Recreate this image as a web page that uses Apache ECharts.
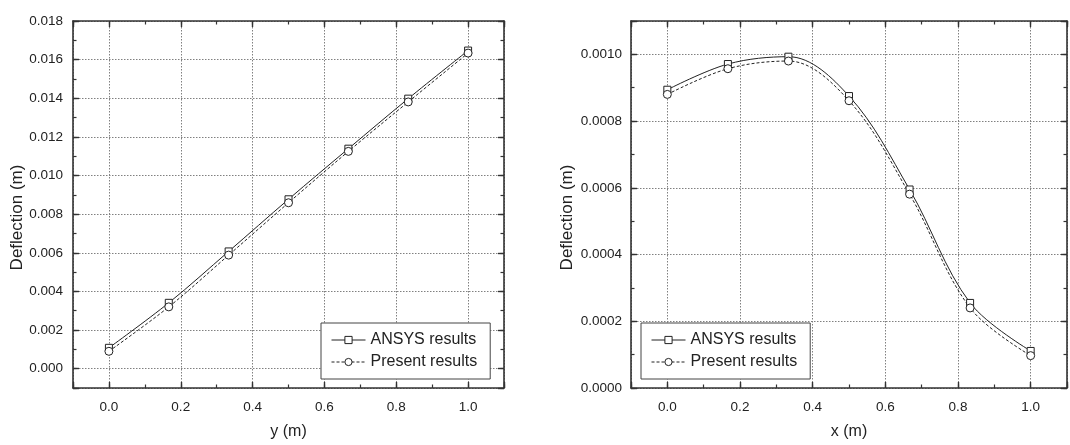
<!DOCTYPE html>
<html><head><meta charset="utf-8">
<script src="https://cdn.jsdelivr.net/npm/echarts@6/dist/echarts.min.js"></script>
<style>html,body{margin:0;padding:0;background:#fff}#c{width:1070px;height:445px}</style>
</head><body><div id="c"></div>
<script>
// ---- data ----
const positions = [0.0, 0.1667, 0.3333, 0.5, 0.6667, 0.8333, 1.0];
const leftAnsys    = [0.00108, 0.00341, 0.00607, 0.00877, 0.01139, 0.01398, 0.01647];
const leftPresent  = [0.00090, 0.00320, 0.00588, 0.00859, 0.01125, 0.01381, 0.01634];
const rightAnsys   = [0.000894, 0.000971, 0.000993, 0.000875, 0.000595, 0.000255, 0.000111];
const rightPresent = [0.000880, 0.000957, 0.000980, 0.000861, 0.000581, 0.000240, 0.000097];
const seriesNames = ['ANSYS results', 'Present results'];
const xTickLabels = ['0.0', '0.2', '0.4', '0.6', '0.8', '1.0'];
const leftYTickLabels = ['0.000', '0.002', '0.004', '0.006', '0.008', '0.010', '0.012', '0.014', '0.016', '0.018'];
const rightYTickLabels = ['0.0000', '0.0002', '0.0004', '0.0006', '0.0008', '0.0010'];
const leftXTitle = 'y (m)', rightXTitle = 'x (m)', yTitle = 'Deflection (m)';

// ---- styling ----
const AX = '#333', GRIDC = '#808080', TXT = '#222', LINE = '#222';
const FONT = '"Liberation Sans", Arial, Helvetica, sans-serif';

function labelFmt(labels) {
  const vals = labels.map(Number);
  return function (v) {
    for (let i = 0; i < vals.length; i++) {
      if (Math.abs(vals[i] - v) < 1e-9) return labels[i];
    }
    return '';
  };
}

function axes(dim, gridIndex, cfg) {
  const mainPos = dim === 'x' ? 'bottom' : 'left';
  const mirPos = dim === 'x' ? 'top' : 'right';
  const base = {
    type: 'value', gridIndex, min: cfg.min, max: cfg.max, silent: true,
    axisLine: { show: true, onZero: false, lineStyle: { color: AX, width: 1.6 } },
    splitLine: { show: false },
    axisLabel: { show: false },
    axisTick: { show: true, inside: true, length: 6, lineStyle: { color: AX, width: 1.4 } }
  };
  const major = cfg.interval ? { interval: cfg.interval } : { splitNumber: cfg.splitNumber };
  const main = Object.assign({}, base, major, {
    position: mainPos,
    name: cfg.name, nameLocation: 'middle', nameGap: cfg.nameGap,
    nameTextStyle: Object.assign({ fontSize: cfg.nameSize, color: TXT, fontFamily: FONT }, cfg.namePad ? { padding: cfg.namePad } : {}),
    axisLabel: { show: true, formatter: labelFmt(cfg.labels), margin: cfg.margin, fontSize: 13.5, color: TXT, fontFamily: FONT },
    splitLine: { show: true, lineStyle: { type: [1.5, 1.5], color: GRIDC, width: 1 } }
  });
  const minor = Object.assign({}, base, {
    interval: cfg.minor, position: mainPos,
    axisLine: { show: false, onZero: false },
    axisTick: { show: true, inside: true, length: 3.5, lineStyle: { color: AX, width: 1.2 } }
  });
  const mir = Object.assign({}, base, major, { position: mirPos });
  const mirMinor = Object.assign({}, minor, { position: mirPos });
  return [main, minor, mir, mirMinor];
}

const xAxes = [].concat(
  axes('x', 0, { min: -0.1, max: 1.1, splitNumber: 6, minor: 0.1, labels: xTickLabels, margin: 12, name: leftXTitle, nameGap: 36, nameSize: 16 }),
  axes('x', 1, { min: -0.1, max: 1.1, splitNumber: 6, minor: 0.1, labels: xTickLabels, margin: 12, name: rightXTitle, nameGap: 36, nameSize: 16 })
);
const yAxes = [].concat(
  axes('y', 0, { min: -0.001, max: 0.018, splitNumber: 9, minor: 0.001, labels: leftYTickLabels, margin: 10, name: yTitle, nameGap: 46, nameSize: 17, namePad: [0, 26, 0, 0] }),
  axes('y', 1, { min: 0, max: 0.0011, interval: 0.0002, minor: 0.0001, labels: rightYTickLabels, margin: 9, name: yTitle, nameGap: 55, nameSize: 17, namePad: [0, 26, 0, 0] })
);

function ser(name, ys, axisIdx, symbol, size, dashed) {
  return {
    type: 'line', name, xAxisIndex: axisIdx, yAxisIndex: axisIdx,
    data: positions.map((x, i) => [x, ys[i]]),
    smooth: 0.35, symbol, symbolSize: size, showSymbol: true, animation: false,
    lineStyle: { color: LINE, width: 1, type: dashed ? [3, 2] : 'solid' },
    itemStyle: { color: '#fff', borderColor: LINE, borderWidth: 1 },
    emphasis: { disabled: true }
  };
}

function legendAt(left) {
  return {
    left, top: 323, orient: 'vertical', data: seriesNames,
    backgroundColor: '#fff', borderColor: '#444', borderWidth: 1,
    padding: [9, 13, 9, 10], itemGap: 6, itemWidth: 34, itemHeight: 9,
    lineStyle: { width: 1 },
    itemStyle: { borderWidth: 1 },
    textStyle: { fontSize: 16, color: TXT, fontFamily: FONT },
    selectedMode: false
  };
}

const chart = echarts.init(document.getElementById('c'));
chart.setOption({
  animation: false,
  backgroundColor: '#fff',
  grid: [
    { left: 73, top: 21, width: 431, height: 372 },
    { left: 631, top: 21, width: 440, height: 372 }
  ],
  xAxis: xAxes,
  yAxis: yAxes,
  legend: [legendAt(321), legendAt(641)],
  series: [
    ser(seriesNames[0], leftAnsys, 0, 'rect', 7, false),
    ser(seriesNames[1], leftPresent, 0, 'circle', 8, true),
    ser(seriesNames[0], rightAnsys, 4, 'rect', 7, false),
    ser(seriesNames[1], rightPresent, 4, 'circle', 8, true)
  ]
});
</script>
</body></html>
